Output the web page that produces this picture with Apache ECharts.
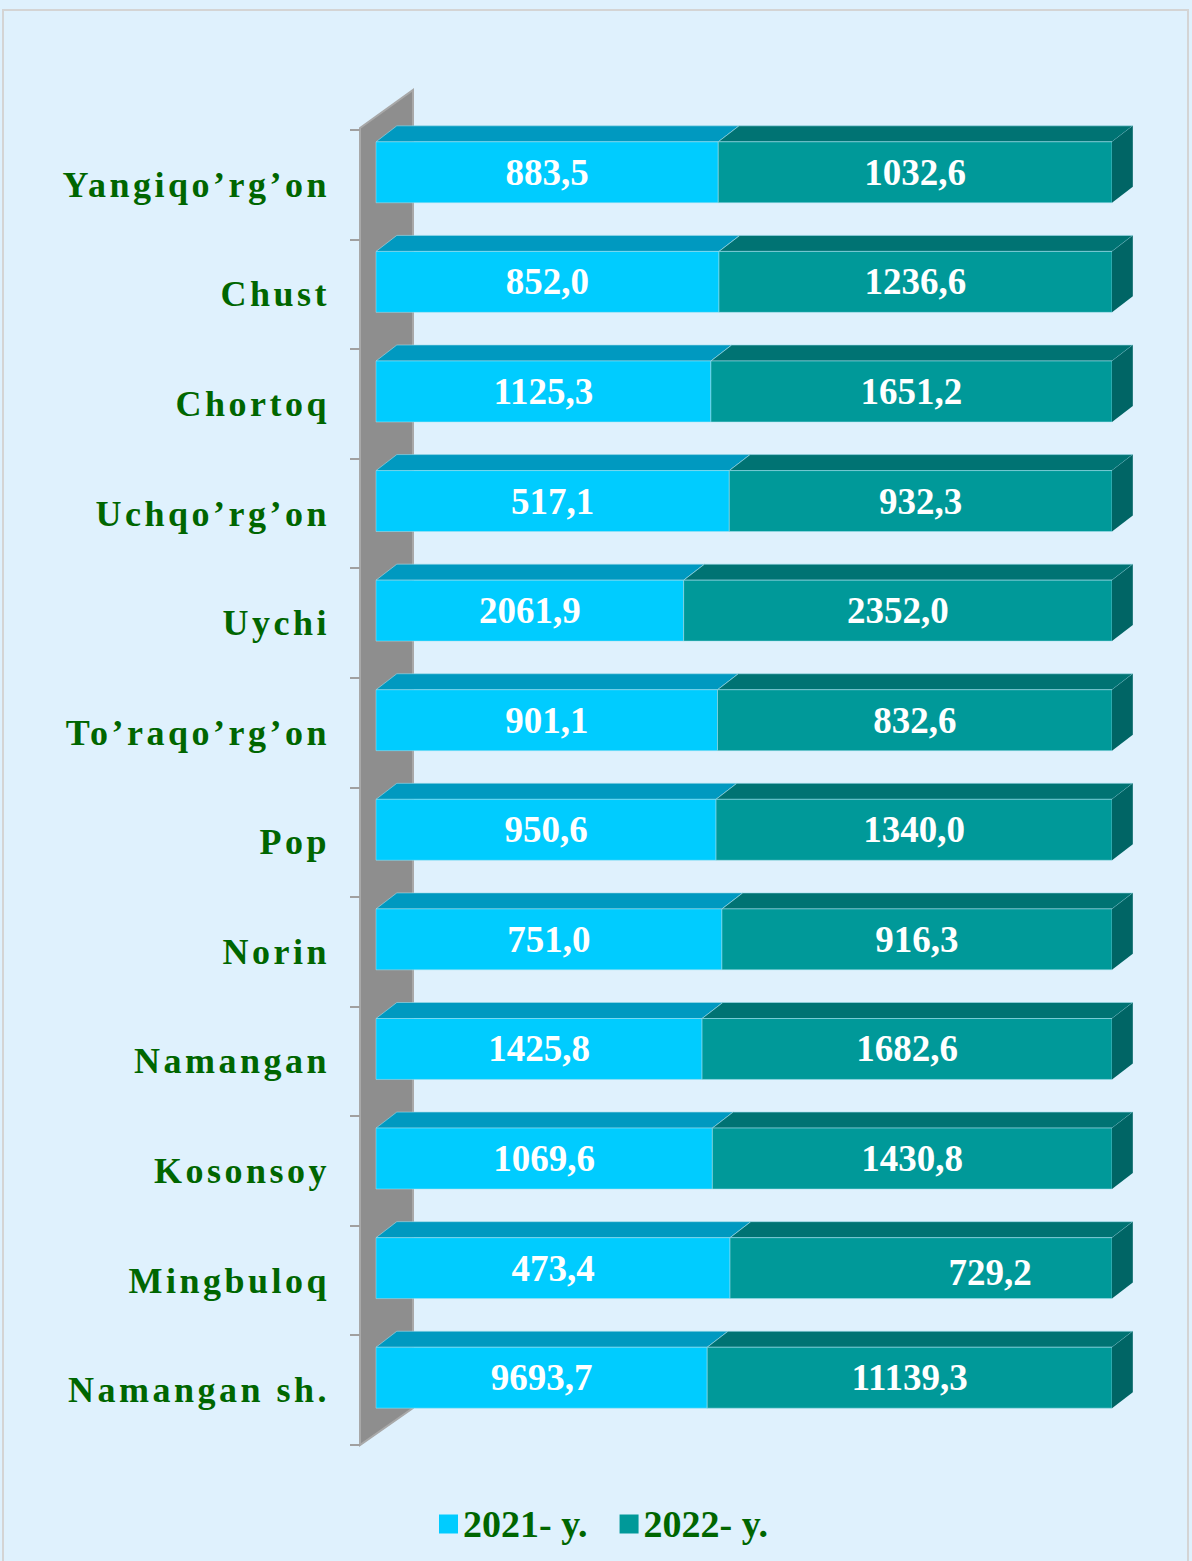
<!DOCTYPE html>
<html>
<head>
<meta charset="utf-8">
<script src="https://cdn.jsdelivr.net/npm/echarts@6/dist/echarts.min.js"></script>
<style>
html,body{margin:0;padding:0;background:#DFF1FD;}
#chart{width:1192px;height:1561px;}
</style>
</head>
<body>
<div id="chart"></div>
<script>
// Categories (top to bottom)
const categories = ["Yangiqo’rg’on","Chust","Chortoq","Uchqo’rg’on","Uychi","To’raqo’rg’on","Pop","Norin","Namangan","Kosonsoy","Mingbuloq","Namangan sh."];
// Values printed on the bars
const values2021 = [883.5, 852.0, 1125.3, 517.1, 2061.9, 901.1, 950.6, 751.0, 1425.8, 1069.6, 473.4, 9693.7];
const values2022 = [1032.6, 1236.6, 1651.2, 932.3, 2352.0, 832.6, 1340.0, 916.3, 1682.6, 1430.8, 729.2, 11139.3];
// Bar length share of 2021 segment (percent of full 100% bar)
const share2021 = [46.5, 46.6, 45.5, 48.0, 41.8, 46.4, 46.2, 47.0, 44.3, 45.7, 48.1, 45.0];
const seriesNames = ["2021- y.", "2022- y."];

const FONT = '"Liberation Serif", "Times New Roman", serif';
const C21 = {front:'#00CCFF', top:'#0099C0', side:'#0088AA'};
const C22 = {front:'#009999', top:'#007373', side:'#006565'};
// label nudge for one off-centre label in the original (category index -> [dx, dy])
const labelNudge22 = {10: [69, 4]};

function fmt(v){ return v.toFixed(1).replace('.', ','); }

function barRender(colors, isLast, values, nudge){
  return function(params, api){
    const start = api.value(0), end = api.value(1), ci = api.value(2);
    const p0 = api.coord([start, ci]);
    const p1 = api.coord([end, ci]);
    const band = api.size([0, 1])[1];
    const c = p0[1];
    const top = c - 0.392 * band;
    const bottom = c + 0.164 * band;
    const dx = 0.19 * band, dy = 0.146 * band;
    const x0 = p0[0], x1 = p1[0];
    const children = [
      {type:'polygon', shape:{points:[[x0,top],[x0+dx,top-dy],[x1+dx,top-dy],[x1,top]]},
       style:{fill:colors.top, stroke:'rgba(160,220,235,0.6)', lineWidth:1}},
      {type:'rect', shape:{x:x0, y:top, width:x1-x0, height:bottom-top},
       style:{fill:colors.front, stroke:'rgba(170,225,240,0.5)', lineWidth:1}}
    ];
    if (isLast){
      children.push({type:'polygon', shape:{points:[[x1,top],[x1+dx,top-dy],[x1+dx,bottom-dy],[x1,bottom]]},
        style:{fill:colors.side}});
    }
    const n = (nudge && nudge[ci]) || [0,0];
    children.push({type:'text', style:{
      text: fmt(values[ci]), x:(x0+x1)/2 + n[0], y:(top+bottom)/2 + n[1],
      align:'center', verticalAlign:'middle', fill:'#FFFFFF',
      font:'bold 37px ' + FONT
    }});
    return {type:'group', children};
  };
}

const data21 = categories.map((c,i)=>[0, share2021[i], i]);
const data22 = categories.map((c,i)=>[share2021[i], 100, i]);

const chart = echarts.init(document.getElementById('chart'), null, {renderer:'svg'});
chart.setOption({
  backgroundColor:'#DFF1FD',
  animation:false,
  grid:{left:376, right:80, top:130, bottom:116, containLabel:false},
  xAxis:{type:'value', min:0, max:100, show:false},
  yAxis:{
    type:'category', data:categories, inverse:true, offset:16,
    axisLine:{show:false},
    axisTick:{show:false},
    axisLabel:{color:'#006600', fontWeight:'bold', fontSize:36, fontFamily:FONT, margin:30}
  },
  legend:{
    data:seriesNames, left:434, top:1500, icon:'rect', itemWidth:19, itemHeight:19, itemGap:32, itemStyle:{borderWidth:0},
    textStyle:{color:'#006600', fontWeight:'bold', fontSize:38, fontFamily:FONT, padding:[0,0,0,0]},
    selectedMode:false
  },
  graphic:[{type:'rect', shape:{x:3, y:10, width:1185, height:1560}, style:{fill:'none', stroke:'#D4D4D4', lineWidth:2}, z:-1}],
  series:[
    {
      type:'custom', name:'wall', silent:true, z:1,
      data:[[0,0,0]],
      renderItem:function(params, api){
        const cs = params.coordSys;
        const lx = cs.x - 16, rx = cs.x + 37;
        const ty = cs.y - 2, by = cs.y + cs.height;
        const band = cs.height / categories.length;
        const children = [{type:'polygon', shape:{points:[[lx,ty],[rx,ty-38],[rx,by-37],[lx,by]]},
          style:{fill:'#8E8E8E', stroke:'#A8A8A8', lineWidth:2}}];
        for (let i = 0; i <= categories.length; i++){
          const y = Math.round(cs.y + i * band);
          children.push({type:'line', shape:{x1:lx-10, y1:y, x2:lx, y2:y}, style:{stroke:'#A0A0A0', lineWidth:2}});
        }
        return {type:'group', children};
      }
    },
    {
      type:'custom', name:seriesNames[0], z:2,
      itemStyle:{color:C21.front},
      encode:{x:[0,1], y:2},
      data:data21,
      renderItem:barRender(C21, false, values2021, null)
    },
    {
      type:'custom', name:seriesNames[1], z:3,
      itemStyle:{color:C22.front},
      encode:{x:[0,1], y:2},
      data:data22,
      renderItem:barRender(C22, true, values2022, labelNudge22)
    }
  ]
});

function spaceLabels(){
  const set = new Set(categories);
  document.querySelectorAll('#chart svg text').forEach(t=>{
    if (set.has(t.textContent)) t.setAttribute('letter-spacing','3.5px');
  });
}
spaceLabels();
chart.on('finished', spaceLabels);
</script>
</body>
</html>
